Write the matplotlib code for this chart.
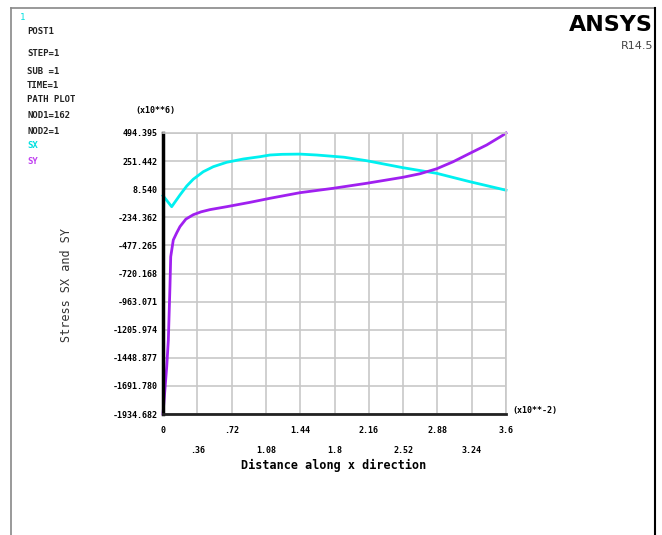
import matplotlib
matplotlib.use("Agg")
import matplotlib.pyplot as plt
from matplotlib import font_manager

# Data (x in units of 10**-2, stress in units of 10**6)
sx_x = [0.0, 0.091, 0.178, 0.249, 0.318, 0.423, 0.528, 0.668, 0.843, 1.018, 1.123, 1.25, 1.437, 1.613, 1.90, 2.137, 2.518, 2.697, 2.872, 3.221, 3.6]
sx_y = [-47.6, -142.7, -41.5, 36.0, 95.0, 159.9, 203.1, 241.1, 269.7, 289.5, 304.2, 310.0, 312.0, 304.2, 285.0, 254.9, 194.5, 170.0, 146.0, 73.4, 0.0]

sy_x = [0.0, 0.039, 0.056, 0.073, 0.081, 0.108, 0.143, 0.178, 0.24, 0.318, 0.40, 0.493, 0.668, 0.913, 1.123, 1.437, 1.787, 2.137, 2.518, 2.697, 2.872, 3.046, 3.221, 3.397, 3.571, 3.6]
sy_y = [-1934.7, -1526.0, -1295.0, -834.0, -574.9, -430.5, -370.0, -315.0, -250.0, -212.0, -187.0, -168.0, -142.7, -105.0, -70.0, -21.6, 16.4, 59.6, 111.5, 142.0, 185.0, 246.3, 318.9, 390.7, 477.1, 494.4]

x_ticks = [0, 0.36, 0.72, 1.08, 1.44, 1.8, 2.16, 2.52, 2.88, 3.24, 3.6]
x_labels = ["0", ".36", ".72", "1.08", "1.44", "1.8", "2.16", "2.52", "2.88", "3.24", "3.6"]
y_ticks = [494.395, 251.442, 8.540, -234.362, -477.265, -720.168, -963.071,
           -1205.974, -1448.877, -1691.780, -1934.682]
y_labels = ["494.395", "251.442", "8.540", "-234.362", "-477.265", "-720.168", "-963.071",
            "-1205.974", "-1448.877", "-1691.780", "-1934.682"]

W, H = 662, 535
fig = plt.figure(figsize=(W / 100, H / 100), dpi=100)
fig.patch.set_facecolor("white")

def fx(px):
    return px / W

def fy(py):
    return 1 - py / H

# outer frame
fig.add_artist(plt.Line2D([fx(11), fx(11)], [fy(8), fy(535)], color="#888888", lw=1.2))
fig.add_artist(plt.Line2D([fx(11), fx(655)], [fy(8), fy(8)], color="#888888", lw=1.2))
fig.add_artist(plt.Line2D([fx(655), fx(655)], [fy(8), fy(535)], color="black", lw=1.5))

left, right, top, bottom = 163, 506, 133, 414
ax = fig.add_axes([fx(left), fy(bottom), fx(right - left), (bottom - top) / H])
ax.set_xlim(0, 3.6)
ax.set_ylim(y_ticks[-1], y_ticks[0])
ax.set_xticks(x_ticks)
ax.set_yticks(y_ticks)
ax.grid(True, color="#c8c8c8", lw=1.2)
ax.set_axisbelow(True)
for s in ["top", "right"]:
    ax.spines[s].set_color("#c8c8c8")
    ax.spines[s].set_linewidth(1.2)
ax.spines["left"].set_color("black")
ax.spines["left"].set_linewidth(2.5)
ax.spines["bottom"].set_color("#222222")
ax.spines["bottom"].set_linewidth(2.0)
ax.tick_params(length=0, pad=4)

mono = "DejaVu Sans Mono"
ax.set_yticklabels(y_labels, fontsize=6, family=mono, fontweight="bold")
ax.set_xticklabels([])
for i, (t, lab) in enumerate(zip(x_ticks, x_labels)):
    off = 12 if i % 2 == 0 else 26
    ax.annotate(lab, xy=(t, y_ticks[-1]), xytext=(0, -off), textcoords="offset points",
                ha="center", va="center", fontsize=6, family=mono, fontweight="bold")

ax.plot(sx_x, sx_y, color="#00f0f0", lw=2.0, clip_on=False)
ax.plot(sy_x, sy_y, color="#a020f0", lw=2.0, clip_on=False)

fig.text(fx(334), fy(465), "Distance along x direction", ha="center", va="center",
         fontsize=8.5, family=mono, fontweight="bold")
fig.text(fx(66), fy(285), "Stress SX and SY", ha="center", va="center", rotation=90,
         fontsize=8.5, family=mono, color="#333333")
fig.text(fx(155), fy(111), "(x10**6)", ha="center", va="center", fontsize=6, family=mono, fontweight="bold")
fig.text(fx(512), fy(410), "(x10**-2)", ha="left", va="center", fontsize=6, family=mono, fontweight="bold")

fig.text(fx(20), fy(17), "1", color="#00e0e0", fontsize=6.5, family=mono, va="center")
info = [("POST1", 31), ("STEP=1", 54), ("SUB =1", 71), ("TIME=1", 86), ("PATH PLOT", 100),
        ("NOD1=162", 116), ("NOD2=1", 131)]
for t, y in info:
    fig.text(fx(27), fy(y), t, fontsize=6.5, family=mono, fontweight="bold", va="center", color="#222222")
fig.text(fx(27), fy(146), "SX", fontsize=6.5, family=mono, fontweight="bold", va="center", color="#00e0e0")
fig.text(fx(27), fy(161), "SY", fontsize=6.5, family=mono, fontweight="bold", va="center", color="#c040f0")

names = {f.name for f in font_manager.fontManager.ttflist}
logo_font = "Liberation Sans Narrow" if "Liberation Sans Narrow" in names else "DejaVu Sans"
fig.text(fx(653), fy(25), "ANSYS", ha="right", va="center", fontsize=16, fontweight="bold",
         family=logo_font)
fig.text(fx(653), fy(46), "R14.5", ha="right", va="center", fontsize=8, color="#444444",
         family=logo_font)

fig.savefig("out.png", dpi=100)
